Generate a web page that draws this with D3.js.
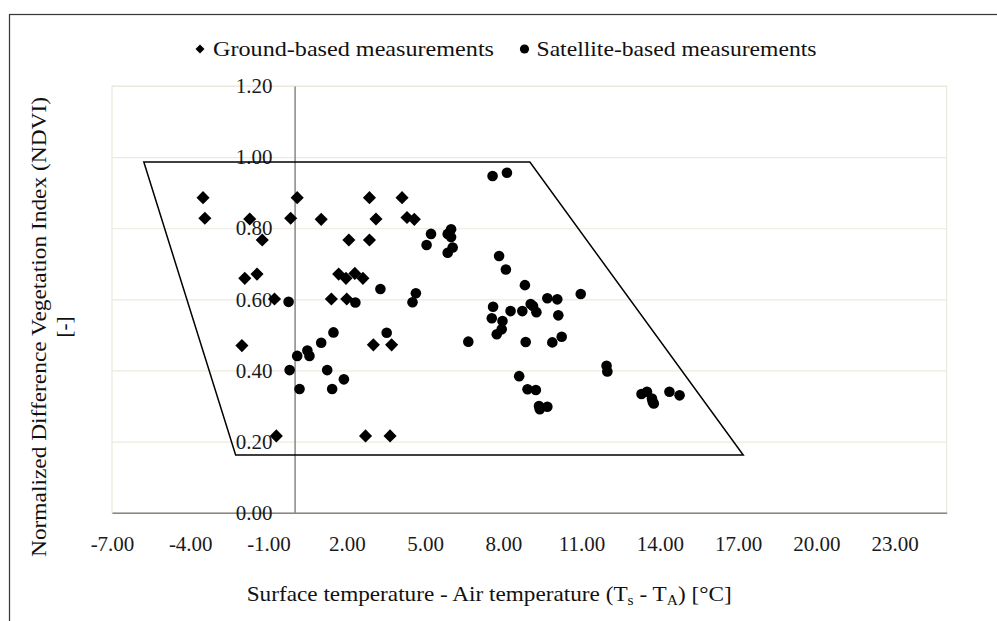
<!DOCTYPE html>
<html>
<head>
<meta charset="utf-8">
<script src="https://cdn.jsdelivr.net/npm/d3@7"></script>
<style>
  body { margin: 0; background: #fff; }
  svg { display: block; }
  text { font-family: "Liberation Serif", "Times New Roman", serif; }
</style>
</head>
<body>
<script>
// ---------------- data ----------------
const xTickValues = [-7, -4, -1, 2, 5, 8, 11, 14, 17, 20, 23];
const yTickValues = [0, 0.2, 0.4, 0.6, 0.8, 1.0, 1.2];

const legendLabels = ["Ground-based measurements", "Satellite-based measurements"];

// Ground-based measurements (Ts - TA, NDVI)
const groundX = [-3.51, -3.44, -1.72, -1.24, 0.10, -0.15, 1.02, -1.91, -1.44, -0.77,
                 -2.02, -0.70, 2.87, 4.12, 3.12, 4.31, 4.59, 2.08, 2.87, 1.69,
                 1.97, 2.31, 2.62, 1.41, 2.00, 3.02, 3.72, 2.72, 3.66];
const groundNDVI = [0.886, 0.828, 0.826, 0.767, 0.886, 0.828, 0.825, 0.659, 0.671, 0.601,
                    0.470, 0.216, 0.886, 0.886, 0.826, 0.830, 0.825, 0.767, 0.767, 0.671,
                    0.659, 0.673, 0.659, 0.601, 0.601, 0.472, 0.472, 0.216, 0.216];

// Satellite-based measurements (Ts - TA, NDVI)
const satelliteX = [-0.23, 0.10, 0.49, 0.57, 1.02, 1.49, -0.19, 1.25, 0.19, 1.44,
                    1.89, 2.33, 3.29, 3.53, 4.65, 4.52, 5.23, 5.06, 6.00, 5.87,
                    6.00, 6.06, 5.87, 6.66, 7.59, 8.14, 7.84, 8.10, 8.83, 9.69,
                    10.07, 10.97, 7.61, 7.56, 7.97, 7.94, 7.75, 8.28, 8.73, 9.05,
                    9.14, 9.27, 10.11, 10.24, 9.88, 8.86, 8.61, 8.93, 9.25, 9.37,
                    9.40, 9.69, 11.96, 11.99, 13.30, 13.51, 13.70, 13.77, 13.73, 14.37,
                    14.76];
const satelliteNDVI = [0.593, 0.441, 0.456, 0.441, 0.478, 0.507, 0.401, 0.401, 0.348, 0.348,
                       0.375, 0.591, 0.629, 0.506, 0.617, 0.592, 0.784, 0.753, 0.797, 0.784,
                       0.775, 0.746, 0.731, 0.481, 0.947, 0.956, 0.722, 0.684, 0.640, 0.603,
                       0.600, 0.615, 0.579, 0.547, 0.539, 0.516, 0.502, 0.567, 0.567, 0.587,
                       0.581, 0.564, 0.555, 0.495, 0.479, 0.480, 0.384, 0.347, 0.345, 0.300,
                       0.291, 0.298, 0.413, 0.397, 0.334, 0.340, 0.321, 0.307, 0.312, 0.340,
                       0.330];

// Envelope (trapezoid) vertices in data units
const envelopeX = [-5.78, 9.02, 17.20, -2.26];
const envelopeNDVI = [0.986, 0.986, 0.162, 0.162];

// ---------------- layout ----------------
const W = 997, H = 621;
const plot = { left: 112, right: 946.7, top: 86, bottom: 512.7 };
const FS = 21;

const svg = d3.select("body").append("svg")
  .attr("width", W).attr("height", H);

svg.append("rect").attr("width", W).attr("height", H).attr("fill", "#fff");

// outer chart border
svg.append("rect")
  .attr("x", 9.5).attr("y", 14.5).attr("width", 1000).attr("height", 700)
  .attr("fill", "none").attr("stroke", "#3a3a3a").attr("stroke-width", 1.25);

const x = d3.scaleLinear().domain([-7, 25]).range([plot.left, plot.right]);
const y = d3.scaleLinear().domain([0, 1.2]).range([plot.bottom, plot.top]);

// plot area border
svg.append("rect")
  .attr("x", plot.left).attr("y", plot.top)
  .attr("width", plot.right - plot.left).attr("height", plot.bottom - plot.top)
  .attr("fill", "none").attr("stroke", "#ece9dd").attr("stroke-width", 1.2);

// gridlines
svg.append("g")
  .attr("transform", `translate(${plot.left},0)`)
  .call(d3.axisLeft(y).tickValues(yTickValues.filter(v => v > 0))
        .tickSize(-(plot.right - plot.left)).tickFormat(""))
  .call(g => g.select(".domain").remove())
  .call(g => g.selectAll(".tick line").attr("stroke", "#ece9dd").attr("stroke-width", 1.2));

// x axis (at y = 0)
svg.append("g")
  .attr("transform", `translate(0,${y(0)})`)
  .call(d3.axisBottom(x).tickValues(xTickValues).tickSize(0).tickSizeOuter(0)
        .tickPadding(23).tickFormat(d => d.toFixed(2)))
  .call(g => g.select(".domain").attr("stroke", "#878787").attr("stroke-width", 1.5))
  .call(g => g.selectAll(".tick text")
        .attr("font-family", '"Liberation Serif", serif')
        .attr("font-size", FS).attr("fill", "#1a1a1a"));

// y axis (at x = 0)
svg.append("g")
  .attr("transform", `translate(${x(0)},0)`)
  .call(d3.axisLeft(y).tickValues(yTickValues).tickSize(0).tickSizeOuter(0)
        .tickPadding(22).tickFormat(d => d.toFixed(2)))
  .call(g => g.select(".domain").attr("stroke", "#878787").attr("stroke-width", 1.5))
  .call(g => g.selectAll(".tick text")
        .attr("font-family", '"Liberation Serif", serif')
        .attr("font-size", FS).attr("fill", "#1a1a1a"));

// markers
const diamond = d3.symbol().type(d3.symbolSquare).size(86);
const ground = groundX.map((v, i) => ({ x: v, y: groundNDVI[i] }));
const satellite = satelliteX.map((v, i) => ({ x: v, y: satelliteNDVI[i] }));

svg.append("g").selectAll("path").data(ground).join("path")
  .attr("d", diamond)
  .attr("transform", d => `translate(${x(d.x)},${y(d.y)}) rotate(45)`)
  .attr("fill", "#000");

svg.append("g").selectAll("circle").data(satellite).join("circle")
  .attr("cx", d => x(d.x)).attr("cy", d => y(d.y)).attr("r", 5.3)
  .attr("fill", "#000");

// envelope trapezoid
const envelope = envelopeX.map((v, i) => [x(v), y(envelopeNDVI[i])]);
svg.append("path")
  .attr("d", d3.line()(envelope) + "Z")
  .attr("fill", "none").attr("stroke", "#000").attr("stroke-width", 1.5);

// legend
const legendY = 49;
const legend = svg.append("g");
legend.append("path")
  .attr("d", d3.symbol().type(d3.symbolSquare).size(40)())
  .attr("transform", `translate(200,${legendY}) rotate(45)`).attr("fill", "#000");
legend.append("text").attr("x", 213).attr("y", legendY + 6.5)
  .attr("font-size", FS).attr("fill", "#111")
  .attr("textLength", 281).attr("lengthAdjust", "spacingAndGlyphs")
  .text(legendLabels[0]);
legend.append("circle").attr("cx", 524.5).attr("cy", legendY).attr("r", 4.6).attr("fill", "#000");
legend.append("text").attr("x", 536.5).attr("y", legendY + 6.5)
  .attr("font-size", FS).attr("fill", "#111")
  .attr("textLength", 280).attr("lengthAdjust", "spacingAndGlyphs")
  .text(legendLabels[1]);

// x axis title
const xt = svg.append("text").attr("x", 246.7).attr("y", 600.5)
  .attr("font-size", FS).attr("fill", "#111")
  .attr("textLength", 485).attr("lengthAdjust", "spacingAndGlyphs");
xt.append("tspan").text("Surface temperature - Air temperature (T");
xt.append("tspan").attr("font-size", 14).attr("dy", 4).text("s");
xt.append("tspan").attr("dy", -4).text(" - T");
xt.append("tspan").attr("font-size", 14).attr("dy", 4).text("A");
xt.append("tspan").attr("dy", -4).text(") [°C]");

// y axis title
const yt = svg.append("g").attr("transform", "translate(46,327) rotate(-90)");
yt.append("text").attr("text-anchor", "middle").attr("font-size", FS).attr("fill", "#111")
  .attr("textLength", 460).attr("lengthAdjust", "spacingAndGlyphs")
  .text("Normalized Difference Vegetation Index (NDVI)");
yt.append("text").attr("text-anchor", "middle").attr("y", 25).attr("font-size", FS).attr("fill", "#111")
  .text("[-]");
</script>
</body>
</html>
